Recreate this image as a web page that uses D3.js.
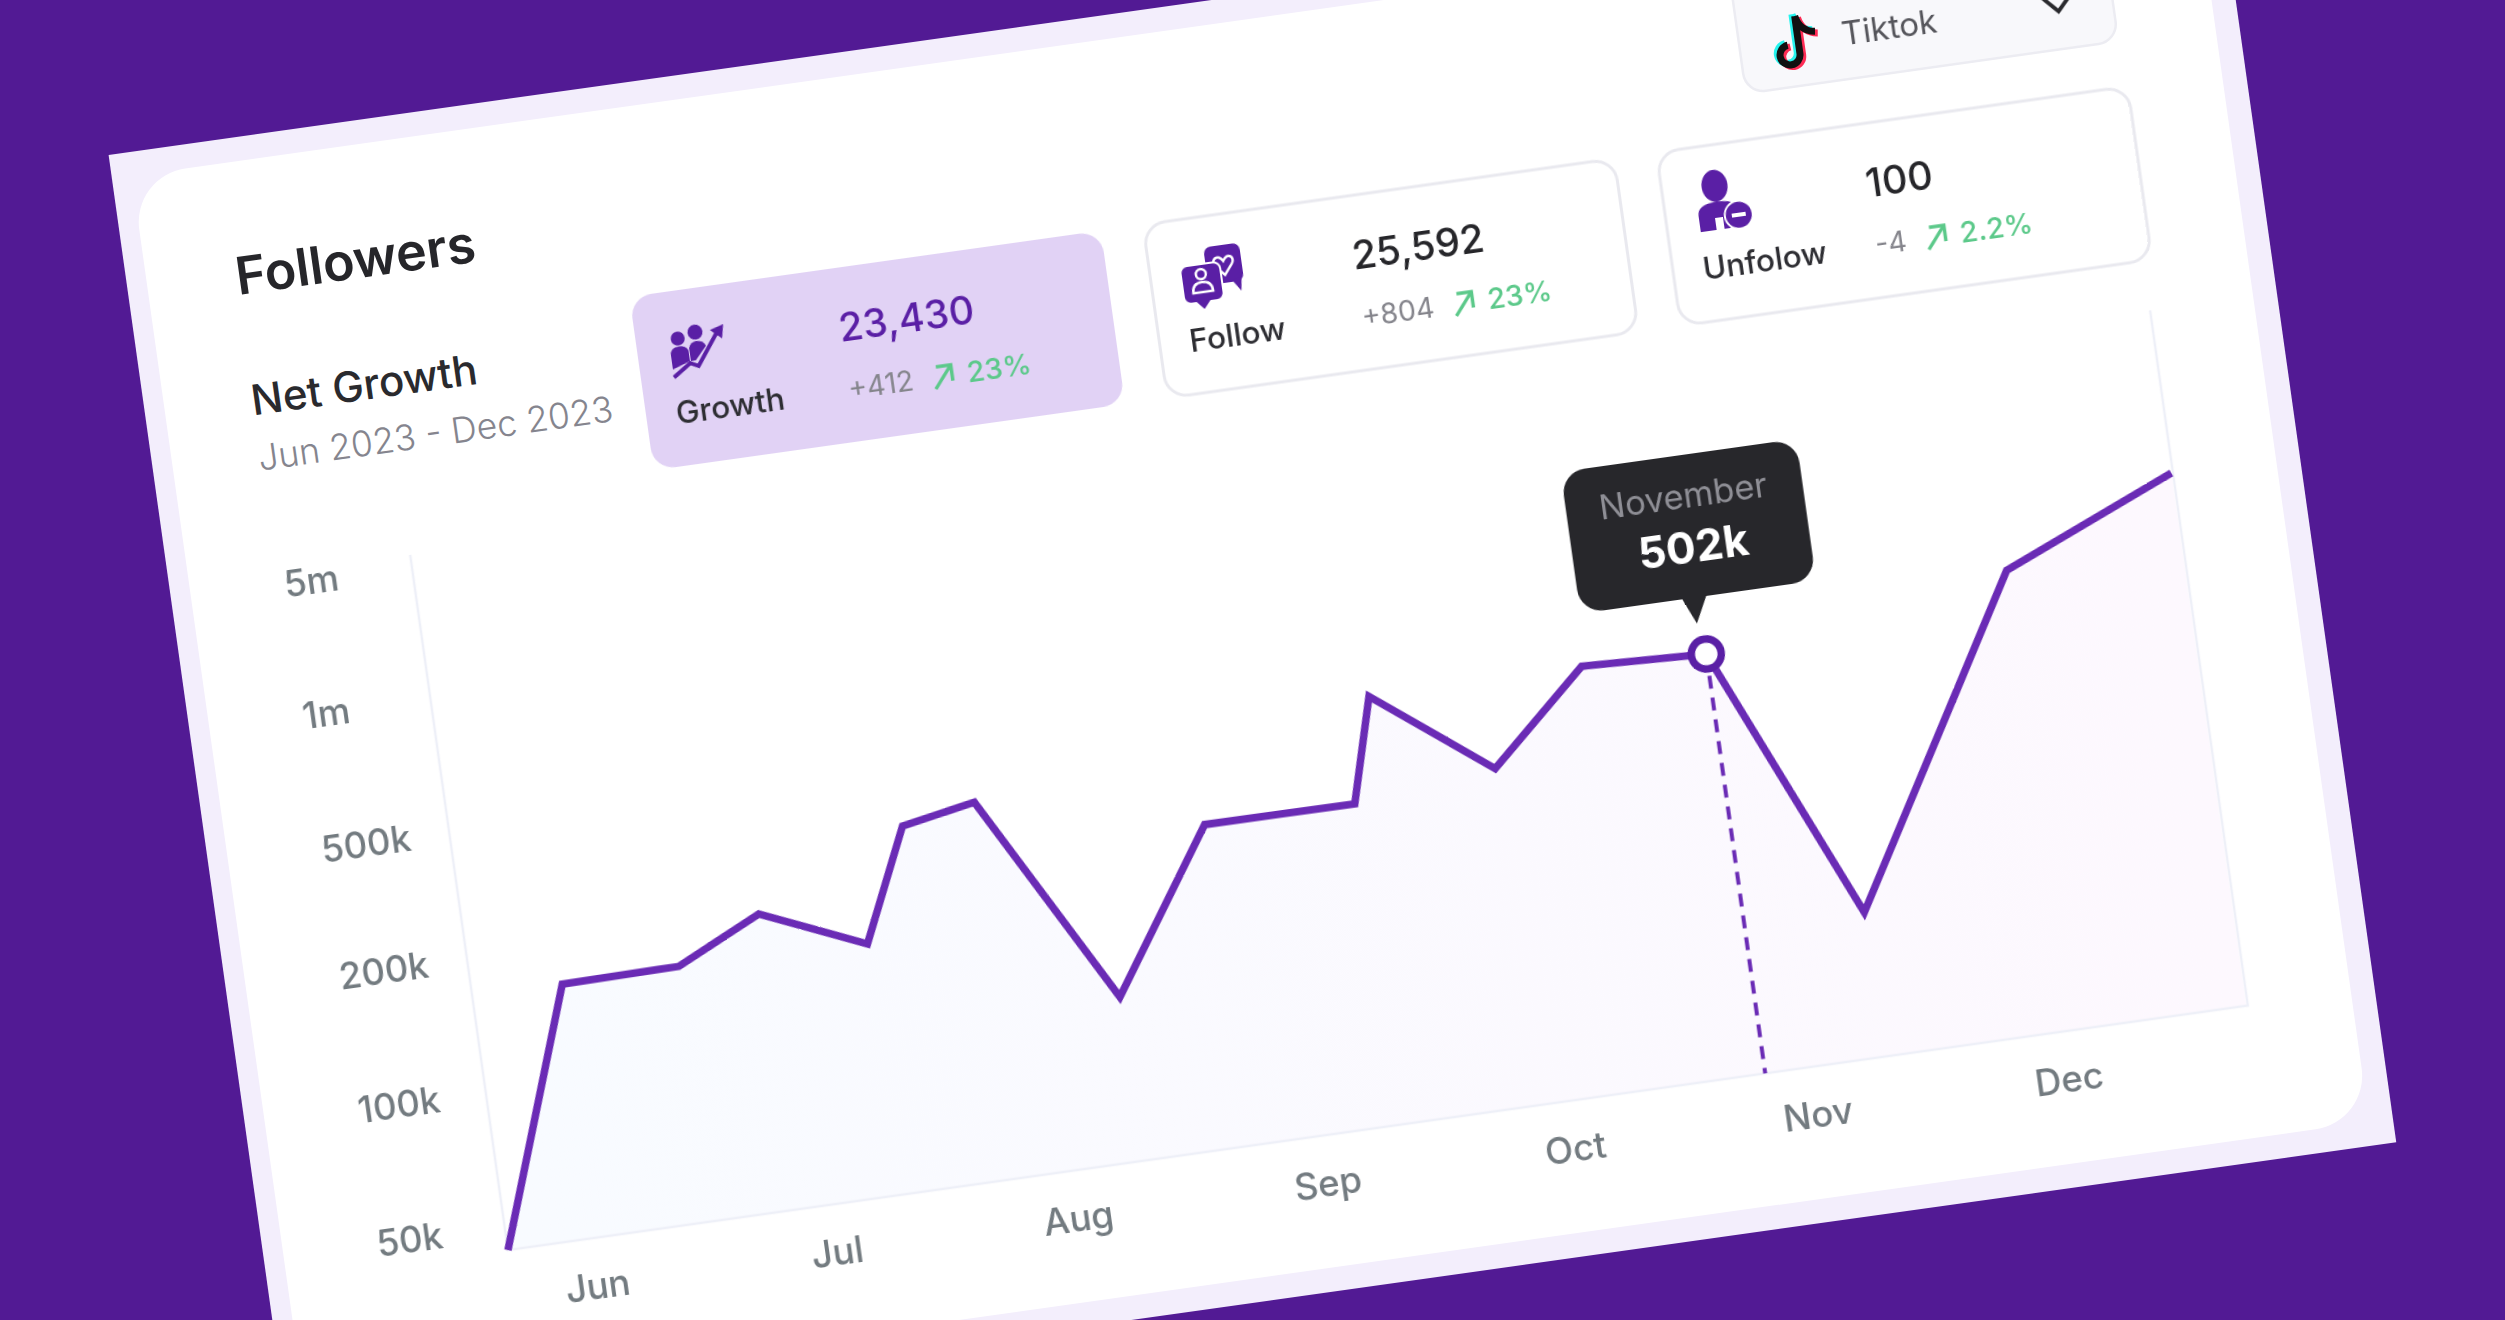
<!DOCTYPE html>
<html>
<head>
<meta charset="utf-8">
<script src="https://cdn.jsdelivr.net/npm/d3@7"></script>
<style>
  html, body { margin: 0; padding: 0; background: #521a94; overflow: hidden; }
  svg { display: block; filter: blur(0.7px); }
  text { font-family: "Inter", "Noto Sans", sans-serif; }
</style>
</head>
<body>
<svg id="Target" width="2505" height="1320"></svg>
<script>
// chart values
const months = ["Jun", "Jul", "Aug", "Sep", "Oct", "Nov", "Dec"];
const yTicks = [50000, 100000, 200000, 500000, 1000000, 5000000];
const yTickLabels = ["50k", "100k", "200k", "500k", "1m", "5m"];
// position along the month axis (0 = Jun, 1 = Jul ...)
const monthPos = [-0.345, 0.03, 0.517, 0.874, 1.30, 1.51, 1.816, 2.287, 2.715, 3.319, 3.435, 3.895, 4.30, 4.811, 5.293, 6.037, 6.734];
const followers = [0, 171000, 172000, 207000, 169000, 364000, 396000, 104000, 269000, 268000, 520000, 304000, 521000, 502000, 94700, 654000, 928000];
const focusIndex = 13;

const cardLabels = ["Growth", "Follow", "Unfolow"];
const cardValues = ["23,430", "25,592", "100"];
const cardDeltas = ["+412", "+804", "-4"];
const cardPercents = ["23%", "23%", "2.2%"];

const purple = "#6a2bb5";
const deep = "#5a1fa5";
const green = "#5cc98a";

const svg = d3.select("#Target");

const defs = svg.append("defs");
const grad = defs.append("linearGradient").attr("id", "areaFill");
grad.append("stop").attr("offset", "0%").attr("stop-color", "#f8fbff");
grad.append("stop").attr("offset", "100%").attr("stop-color", "#fdf8fe");

// whole card is tilted by 8 degrees
const card = svg.append("g").attr("transform", "translate(108.6,155) rotate(-8)");

card.append("rect").attr("width", 2128).attr("height", 1296).attr("fill", "#f3eefc");
card.append("rect").attr("x", 20).attr("y", 24).attr("width", 2084).attr("height", 1248)
    .attr("rx", 54).attr("fill", "#fff");

const label = (parent, str, x, y, size, weight, color, anchor) => parent.append("text")
    .attr("x", x)
    .attr("y", y + size * 0.36)
    .attr("font-size", size)
    .attr("font-weight", weight)
    .attr("fill", color)
    .attr("text-anchor", anchor || "start")
    .text(str);

label(card, "Followers", 109, 138, 52, 600, "#26262a");
label(card, "Net Growth", 107, 263, 42, 500, "#2a2a2e");
label(card, "Jun 2023 - Dec 2023", 106, 321, 35.5, 300, "#85858e");

// stat cards
const cardX = d => 496 + 518.5 * d;
cardLabels.forEach((name, i) => {
    const g = card.append("g").attr("transform", `translate(${cardX(i)},213)`);
    g.append("rect")
        .attr("width", 476).attr("height", 175).attr("rx", 22)
        .attr("fill", i === 0 ? "#e1d2f5" : "#fff")
        .attr("stroke", i === 0 ? "none" : "#e9e9ef")
        .attr("stroke-width", 3);
    label(g, name, 30, 122, 31.5, 500, "#2e2e33");
    label(g, cardValues[i], 203, 60, 39.5, 500, i === 0 ? deep : "#26262a");
    const delta = label(g, cardDeltas[i], 204, 122, 28.5, 400, "#85858c");
    const end = 204 + delta.node().getComputedTextLength();
    const arrow = g.append("g").attr("transform", `translate(${end + 30},122)`)
        .attr("fill", "none").attr("stroke", green).attr("stroke-width", 3.5);
    arrow.append("path").attr("d", "M-9,12L9,-10");
    arrow.append("path").attr("d", "M-6,-10H9V6");
    label(g, cardPercents[i], end + 54, 122, 29, 500, green);
});

// stat card icons
const growthIcon = card.append("g").attr("transform", "translate(559,275)").attr("fill", deep);
growthIcon.append("circle").attr("cx", -21).attr("cy", -14).attr("r", 7);
growthIcon.append("circle").attr("cx", -3).attr("cy", -18).attr("r", 7.5);
growthIcon.append("path").attr("d", "M-30,16V2Q-30,-6 -21,-6Q-14,-6 -12,-1V10Z");
growthIcon.append("path").attr("d", "M-11,-3Q-9,-9 -3,-9Q4,-9 6,-3L-6,10H-11Z");
growthIcon.append("path").attr("d", "M-30,24L-12,12L-4,16L18,-14").attr("fill", "none").attr("stroke", deep).attr("stroke-width", 4);
growthIcon.append("path").attr("d", "M12,-18L26,-22L23,-8Z");

const followIcon = card.append("g").attr("transform", "translate(1075,272)").attr("fill", deep);
followIcon.append("rect").attr("x", -4).attr("y", -28).attr("width", 36).attr("height", 38).attr("rx", 7);
followIcon.append("path").attr("d", "M20,8L28,20L30,6Z");
followIcon.append("path").attr("d", "M14,-12C9,-21 1,-14 5,-8L14,2L22,-8C27,-14 19,-21 14,-12Z").attr("fill", "none").attr("stroke", "#fff").attr("stroke-width", 2.5);
followIcon.append("rect").attr("x", -30).attr("y", -12).attr("width", 40).attr("height", 38).attr("rx", 7).attr("stroke", "#fff").attr("stroke-width", 2);
followIcon.append("path").attr("d", "M-18,25L-11,33L-4,25Z");
followIcon.append("circle").attr("cx", -10).attr("cy", -2).attr("r", 5).attr("fill", "none").attr("stroke", "#fff").attr("stroke-width", 2.5);
followIcon.append("path").attr("d", "M-20,16Q-20,6 -10,6Q0,6 0,16Z").attr("fill", "none").attr("stroke", "#fff").attr("stroke-width", 2.5);

const unfollowIcon = card.append("g").attr("transform", "translate(1592,272)").attr("fill", deep);
unfollowIcon.append("ellipse").attr("cx", -6).attr("cy", -18).attr("rx", 13).attr("ry", 16);
unfollowIcon.append("path").attr("d", "M-26,26V10Q-26,-2 -6,-2Q6,-2 12,2L4,26H-2V14H-10V26Z");
unfollowIcon.append("circle").attr("cx", 14).attr("cy", 14).attr("r", 14).attr("stroke", "#fff").attr("stroke-width", 2);
unfollowIcon.append("rect").attr("x", 7).attr("y", 12).attr("width", 14).attr("height", 4).attr("fill", "#fff");

// platform picker, runs off the top of the picture
const picker = card.append("g");
picker.append("rect").attr("x", 1630).attr("y", 40).attr("width", 376).attr("height", 127).attr("rx", 20)
    .attr("fill", "#f8f8fb").attr("stroke", "#ececf2").attr("stroke-width", 2.5);
[["#25f4ee", -2.5, -2], ["#fe2c55", 2.5, 2], ["#111", 0, 0]].forEach(([c, dx, dy]) => {
    picker.append("path")
        .attr("transform", `translate(${1686 + dx},${124 + dy})`)
        .attr("d", "M3,-27V11A10,10 0 1 1 -8,1M3,-27Q6,-11 21,-9")
        .attr("fill", "none").attr("stroke", c).attr("stroke-width", 7);
});
label(picker, "Tiktok", 1733, 121, 33, 400, "#55555b");
picker.append("path").attr("d", "M1935,112L1951,129L1967,112").attr("fill", "none").attr("stroke", "#2a2a2e").attr("stroke-width", 4);

// scales: both axes have unevenly spaced ticks in the source
const x = d3.scaleLinear()
    .domain([0, 1, 2, 3, 4, 5, 6])
    .range([326.6, 568.7, 812, 1064, 1314, 1559, 1812.4]);
const y = d3.scaleLinear()
    .domain([0].concat(yTicks))
    .range([1140, 1115, 980, 845, 717, 582.6, 449]);

const plotLeft = 243, plotRight = 2000, plotTop = 438, plotBottom = 1140;
const pts = followers.map((v, i) => ({pos: monthPos[i], v}));

const area = d3.area().x(d => x(d.pos)).y0(plotBottom).y1(d => y(d.v));
const line = d3.line().x(d => x(d.pos)).y(d => y(d.v));

card.append("path").attr("d", area(pts)).attr("fill", "url(#areaFill)");

card.append("path")
    .attr("d", `M${plotLeft},${plotTop}V${plotBottom}H${plotRight}V${plotTop}`)
    .attr("fill", "none").attr("stroke", "#eef0f8").attr("stroke-width", 2.5);

const yAxis = card.append("g")
    .attr("transform", "translate(114,1.5)")
    .call(d3.axisRight(y).tickValues(yTicks).tickSize(0).tickPadding(0)
        .tickFormat(d => yTickLabels[yTicks.indexOf(d)]));
yAxis.select(".domain").remove();
yAxis.selectAll("text")
    .attr("font-size", 36.5).attr("font-weight", 500).attr("fill", "#737b80")
    .style("font-family", '"Inter", sans-serif');

const xAxis = card.append("g")
    .attr("transform", "translate(0,1175)")
    .call(d3.axisBottom(x).tickValues(d3.range(months.length)).tickSize(0).tickPadding(0)
        .tickFormat(i => months[i]));
xAxis.select(".domain").remove();
xAxis.selectAll("text")
    .attr("font-size", 36.5).attr("font-weight", 500).attr("fill", "#737b80")
    .style("font-family", '"Inter", sans-serif');

// dashed drop line under the highlighted point
const focus = pts[focusIndex];
card.append("line")
    .attr("x1", x(focus.pos)).attr("x2", x(focus.pos))
    .attr("y1", y(focus.v)).attr("y2", plotBottom)
    .attr("stroke", purple).attr("stroke-width", 4).attr("stroke-dasharray", "13 9");

card.append("path")
    .attr("d", line(pts))
    .attr("fill", "none").attr("stroke", purple).attr("stroke-width", 7.5)
    .attr("stroke-linejoin", "miter");

card.append("circle")
    .attr("cx", x(focus.pos)).attr("cy", y(focus.v)).attr("r", 15)
    .attr("fill", "#fff").attr("stroke", deep).attr("stroke-width", 7.5);

// tooltip
const tipX = x(focus.pos);
const tip = card.append("g");
tip.append("rect").attr("x", tipX - 119).attr("y", 516).attr("width", 238).attr("height", 143).attr("rx", 24).attr("fill", "#27272b");
tip.append("path").attr("d", `M${tipX - 17},657H${tipX + 9}L${tipX - 5},685Z`).attr("fill", "#27272b");
label(tip, "November", tipX - 1, 557, 34.5, 400, "#8f8f96", "middle");
label(tip, "502k", tipX + 2, 608, 44, 700, "#fff", "middle");
</script>
</body>
</html>
